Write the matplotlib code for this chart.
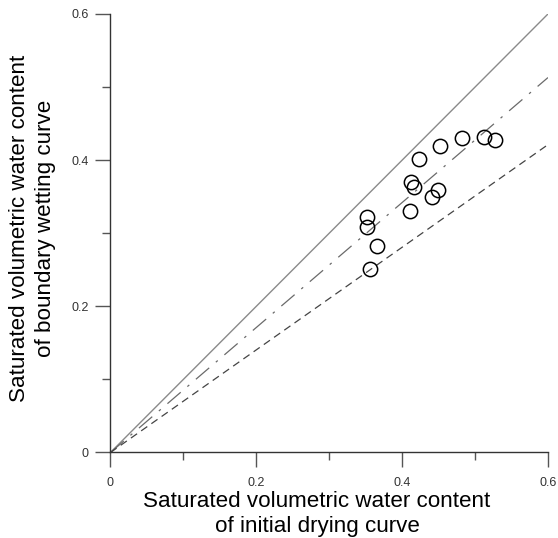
import matplotlib
matplotlib.use("Agg")

import matplotlib.pyplot as plt
import numpy as np
from matplotlib.ticker import MultipleLocator

plt.rcParams["font.family"] = ["Liberation Sans", "DejaVu Sans"]

# measured points: initial drying vs boundary wetting saturated water content
theta_dry = [0.352, 0.352, 0.366, 0.356, 0.412, 0.416, 0.423, 0.411,
             0.441, 0.449, 0.452, 0.482, 0.512, 0.528]
theta_wet = [0.322, 0.308, 0.283, 0.251, 0.370, 0.363, 0.401, 0.330,
             0.350, 0.359, 0.419, 0.430, 0.432, 0.427]

# reference lines y = k * x
slope_one = 1.0
slope_fit = 0.855
slope_low = 0.702
x_line = [0.0, 0.6]

fig = plt.figure(figsize=(5.58, 5.38), dpi=100, facecolor="white")
ax = fig.add_axes([0.198, 0.159, 0.784, 0.815])

ax.plot(x_line, [slope_one * v for v in x_line], color="#8a8a8a", lw=1.0)
ax.plot(x_line, [slope_fit * v for v in x_line], color="#6a6a6a", lw=0.9,
        linestyle=(0, (14, 7, 2, 7)))
ax.plot(x_line, [slope_low * v for v in x_line], color="#444444", lw=0.9,
        linestyle=(0, (6, 4)))

ax.plot(theta_dry, theta_wet, linestyle="none", marker="o", markersize=10.3,
        markerfacecolor="none", markeredgecolor="black", markeredgewidth=1.1)

ax.set_xlim(0, 0.6)
ax.set_ylim(0, 0.6)

for sp in ("top", "right"):
    ax.spines[sp].set_visible(False)
for sp in ("left", "bottom"):
    ax.spines[sp].set_color("#333333")
    ax.spines[sp].set_linewidth(1.0)

ax.xaxis.set_major_locator(MultipleLocator(0.2))
ax.yaxis.set_major_locator(MultipleLocator(0.2))
ax.xaxis.set_minor_locator(MultipleLocator(0.1))
ax.yaxis.set_minor_locator(MultipleLocator(0.1))
ax.xaxis.set_major_formatter(lambda v, p: "0" if v == 0 else f"{v:.1f}")
ax.yaxis.set_major_formatter(lambda v, p: "0" if v == 0 else f"{v:.1f}")

ax.tick_params(which="major", direction="out", length=10.5, width=1.0,
               color="#555555", labelsize=9, labelcolor="#333333", pad=7)
ax.tick_params(which="minor", direction="out", length=6, width=1.0,
               color="#555555")
ax.tick_params(axis="y", which="major", pad=5)

ax.set_xlabel("Saturated volumetric water content\nof initial drying curve",
              fontsize=16.1, color="black", linespacing=1.3)
ax.set_ylabel("Saturated volumetric water content\nof boundary wetting curve",
              fontsize=16.1, color="black", linespacing=1.3)
ax.xaxis.set_label_coords(0.472, -0.087)
ax.yaxis.set_label_coords(-0.125, 0.51)

fig.savefig("out.png", dpi=100, facecolor="white")
